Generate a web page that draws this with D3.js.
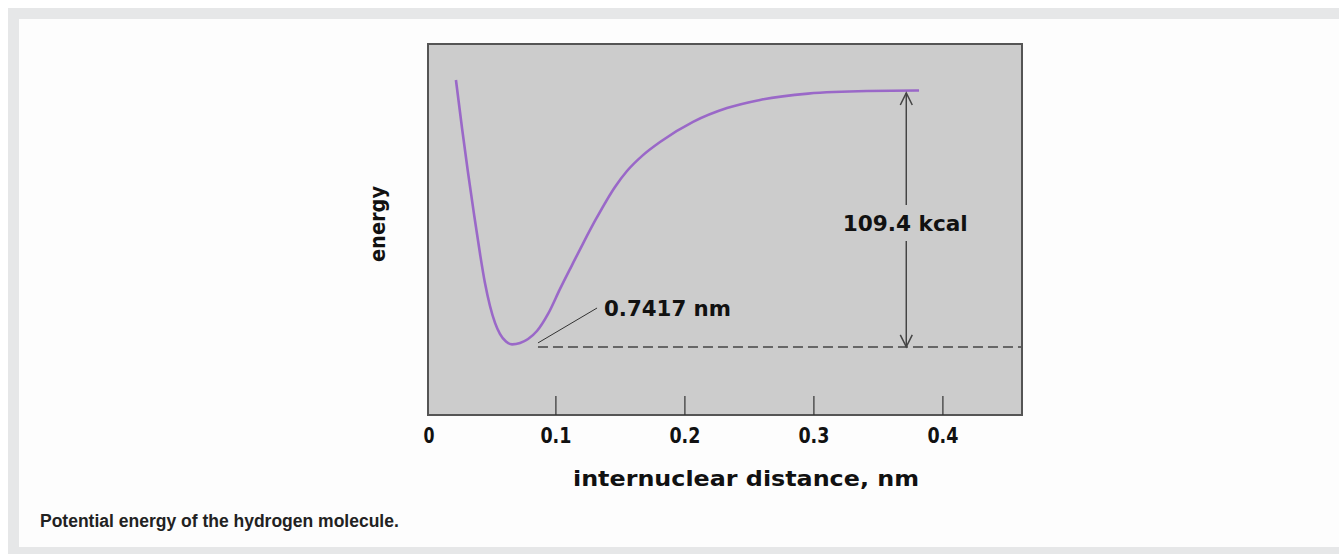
<!DOCTYPE html>
<head>
    <meta charset="utf-8">
    <script src="https://d3js.org/d3.v7.min.js"></script>
    <style>
        body { margin:0; background:#ffffff; }
        .narrow { font-family: "Liberation Sans Narrow", "DejaVu Sans Condensed", "Liberation Sans", sans-serif; font-weight: bold; }
        .caption { font-family: "Liberation Sans", Arial, sans-serif; font-weight: bold; }
    </style>
</head>
<body>
    <svg id="svgelem" width="1339" height="554"></svg>

    <script>
        // internuclear distance (nm) and potential energy (kcal, 0 = separated atoms)
        var distance = [0.0229, 0.0276, 0.0322, 0.0369, 0.0416, 0.0454, 0.0493, 0.0532, 0.0570, 0.0617,
                        0.0664, 0.0726, 0.0788, 0.0857, 0.0943, 0.1036, 0.1129, 0.1214, 0.1315,
                        0.1462, 0.1555, 0.1679, 0.1811, 0.2067, 0.2330, 0.2586, 0.2958, 0.3416, 0.3819];
        var energy = [4.7, -15.8, -34.6, -52.6, -69.7, -82.1, -91.9, -99.1, -103.8, -107.1,
                      -108.3, -107.7, -106.0, -102.6, -95.3, -84.6, -74.4, -65.2, -54.7,
                      -41.0, -34.2, -27.4, -21.8, -13.2, -7.3, -3.8, -1.1, 0, 0.2];
        var tickValues = [0, 0.1, 0.2, 0.3, 0.4];
        var tickLabels = ["0", "0.1", "0.2", "0.3", "0.4"];

        // annotations
        var bondEnergy = 109.4;
        var bondLength = 0.0664;
        var bondLengthLabel = "0.7417 nm";
        var energyLabel = "109.4 kcal";
        var arrowAt = 0.372;
        var dashStart = 0.0865;

        (function() {
        var svg = d3.select("#svgelem");

        // page frame
        svg.append("rect").attr("x", 8).attr("y", 8).attr("width", 1331).attr("height", 546).attr("fill", "#e6e7e8");
        svg.append("rect").attr("x", 19).attr("y", 19).attr("width", 1320).attr("height", 528).attr("fill", "#fdfdfd");

        var boxLeft = 428, boxRight = 1022, boxTop = 44, boxBottom = 415;

        var xRange = d3.scaleLinear().domain([0, 0.4]).range([426.4, 942.4]);
        var yRange = d3.scaleLinear().domain([-138.5, 20.1]).range([boxBottom, boxTop]);

        // plot box
        svg.append("rect")
            .attr("x", boxLeft).attr("y", boxTop)
            .attr("width", boxRight - boxLeft).attr("height", boxBottom - boxTop)
            .attr("fill", "#cccccc")
            .attr("stroke", "#555")
            .attr("stroke-width", 2);

        // x axis: ticks pointing up inside the box
        var xAxis = d3.axisBottom(xRange)
            .tickValues(tickValues)
            .tickFormat(function(d, i) { return tickLabels[i]; })
            .tickSizeInner(-19)
            .tickSizeOuter(0)
            .tickPadding(12);

        var gx = svg.append("g")
            .attr("transform", "translate(0," + boxBottom + ")")
            .call(xAxis);
        gx.select(".domain").remove();
        gx.selectAll(".tick line").attr("stroke", "#333").attr("stroke-width", 1.2)
            .filter(function(d) { return d === 0; }).remove();
        gx.selectAll(".tick text")
            .attr("class", "narrow")
            .attr("font-size", "22px")
            .attr("textLength", function(d, i) { return tickLabels[i].length === 1 ? 11 : 31; })
            .attr("lengthAdjust", "spacingAndGlyphs")
            .attr("fill", "#111");
        gx.selectAll(".tick").filter(function(d) { return d === 0; })
            .attr("transform", "translate(" + (boxLeft + 1) + ",0)");

        // axis titles
        svg.append("text")
            .attr("class", "narrow")
            .attr("x", 746).attr("y", 486)
            .attr("text-anchor", "middle")
            .attr("font-size", "21px")
            .attr("textLength", 346)
            .attr("lengthAdjust", "spacingAndGlyphs")
            .attr("fill", "#111")
            .text("internuclear distance, nm");

        svg.append("text")
            .attr("class", "narrow")
            .attr("transform", "translate(385,224) rotate(-90)")
            .attr("text-anchor", "middle")
            .attr("font-size", "21px")
            .attr("textLength", 76)
            .attr("lengthAdjust", "spacingAndGlyphs")
            .attr("fill", "#111")
            .text("energy");

        // energy curve
        var points = distance.map(function(d, i) { return [d, energy[i]]; });
        var line = d3.line()
            .x(function(d) { return xRange(d[0]); })
            .y(function(d) { return yRange(d[1]); })
            .curve(d3.curveMonotoneX);

        svg.append("path")
            .datum(points)
            .attr("d", line)
            .attr("fill", "none")
            .attr("stroke", "#9a68c8")
            .attr("stroke-width", 2.6);

        // dashed minimum line
        svg.append("line")
            .attr("x1", xRange(dashStart)).attr("x2", boxRight - 1)
            .attr("y1", yRange(-bondEnergy)).attr("y2", yRange(-bondEnergy))
            .attr("stroke", "#666")
            .attr("stroke-width", 2)
            .attr("stroke-dasharray", "10,5");

        // dissociation energy arrow, broken around its label
        var ax = xRange(arrowAt);
        var yTop = yRange(0) + 2, yBot = yRange(-bondEnergy);
        svg.append("line").attr("x1", ax).attr("x2", ax).attr("y1", yTop).attr("y2", 205)
            .attr("stroke", "#444").attr("stroke-width", 1.5);
        svg.append("line").attr("x1", ax).attr("x2", ax).attr("y1", 241).attr("y2", yBot)
            .attr("stroke", "#444").attr("stroke-width", 1.5);
        svg.append("path")
            .attr("d", "M" + (ax - 6) + "," + (yTop + 12) + "L" + ax + "," + yTop + "L" + (ax + 6) + "," + (yTop + 12))
            .attr("fill", "none").attr("stroke", "#444").attr("stroke-width", 1.5);
        svg.append("path")
            .attr("d", "M" + (ax - 6) + "," + (yBot - 12) + "L" + ax + "," + yBot + "L" + (ax + 6) + "," + (yBot - 12))
            .attr("fill", "none").attr("stroke", "#444").attr("stroke-width", 1.5);

        svg.append("text")
            .attr("class", "narrow")
            .attr("x", ax - 1).attr("y", 231)
            .attr("text-anchor", "middle")
            .attr("font-size", "21px")
            .attr("textLength", 125)
            .attr("lengthAdjust", "spacingAndGlyphs")
            .attr("fill", "#111")
            .text(energyLabel);

        // bond length leader and label
        svg.append("line")
            .attr("x1", xRange(dashStart)).attr("y1", yRange(-bondEnergy) - 4)
            .attr("x2", xRange(bondLength) + 85).attr("y2", 308)
            .attr("stroke", "#333").attr("stroke-width", 1);

        svg.append("text")
            .attr("class", "narrow")
            .attr("x", 604).attr("y", 316)
            .attr("font-size", "21px")
            .attr("textLength", 127)
            .attr("lengthAdjust", "spacingAndGlyphs")
            .attr("fill", "#111")
            .text(bondLengthLabel);

        // caption
        svg.append("text")
            .attr("class", "caption")
            .attr("x", 40).attr("y", 527)
            .attr("font-size", "17.5px")
            .attr("fill", "#222")
            .text("Potential energy of the hydrogen molecule.");
        })();
    </script>
</body>
